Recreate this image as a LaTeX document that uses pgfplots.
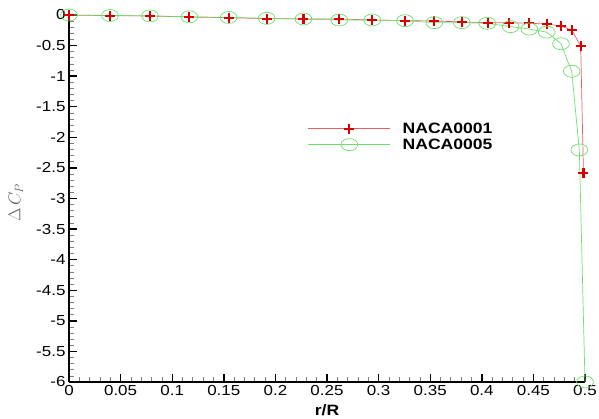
\documentclass[border=0pt]{standalone}
\usepackage{fontspec}
\setmainfont{Liberation Sans}
\usepackage{graphicx}
\usepackage{pgfplots}
\pgfplotsset{compat=1.18}
\definecolor{redline}{RGB}{232,95,95}
\definecolor{redmark}{RGB}{215,0,0}
\definecolor{greenline}{RGB}{110,222,110}
\newcommand{\sx}[1]{\scalebox{1.17}[1]{#1}}
\begin{document}
\begin{tikzpicture}
\begin{axis}[
 scale only axis, width=516pt, height=367pt,
 xmin=0,xmax=0.5,ymin=-6,ymax=0,
 axis x line*=bottom, axis y line*=left,
 axis line style={line width=1.6pt},
 clip=false,
 xtick={0,0.05,0.1,0.15,0.2,0.25,0.3,0.35,0.4,0.45,0.5},
 xticklabels={\sx{0},\sx{0.05},\sx{0.1},\sx{0.15},\sx{0.2},\sx{0.25},\sx{0.3},\sx{0.35},\sx{0.4},\sx{0.45},\sx{0.5}},
 ytick={-6,-5.5,-5,-4.5,-4,-3.5,-3,-2.5,-2,-1.5,-1,-0.5,0},
 yticklabels={\sx{-6},\sx{-5.5},\sx{-5},\sx{-4.5},\sx{-4},\sx{-3.5},\sx{-3},\sx{-2.5},\sx{-2},\sx{-1.5},\sx{-1},\sx{-0.5},\sx{0}},
 minor x tick num=4, minor y tick num=4,
 tick align=inside,
 major tick length=8pt, minor tick length=4.5pt,
 major tick style={line width=1.4pt,black},
 minor tick style={line width=0.7pt,gray},
 ticklabel style={font=\fontsize{14.5}{16}\selectfont},
 /pgf/number format/assume math mode=true,
 xlabel={\sx{\bfseries r/R}},
 xlabel style={at={(axis description cs:0.5,0)},yshift=-28pt,anchor=center,font=\fontsize{15}{17}\selectfont},
 ylabel={$\Delta\,C_P$},
 ylabel style={at={(axis description cs:-0.103,0.488)},anchor=center,text=gray!80!black,font=\fontsize{17}{19}\selectfont},
 legend style={at={(axis description cs:0.457,0.718)},anchor=north west,draw=none,fill=none,font=\bfseries\fontsize{15}{17}\selectfont,row sep=0pt},
 legend cell align=left,
 legend image code/.code={\draw[mark repeat=2,mark phase=2,#1] plot coordinates {(0pt,0pt) (41pt,0pt) (82pt,0pt)}; \path (92pt,0pt);},
]
\coordinate (O) at (rel axis cs:0,0);
\addplot[color=redline, line width=0.7pt, mark=+, mark size=5pt, mark options={redmark, line width=2.2pt}] coordinates {
(0,0) (0.0397,-0.011) (0.0785,-0.016) (0.1166,-0.033) (0.1547,-0.044) (0.1916,-0.060) (0.2272,-0.065) (0.2619,-0.065) (0.2939,-0.082) (0.3256,-0.093) (0.3540,-0.098) (0.3811,-0.114) (0.4057,-0.126) (0.4266,-0.126) (0.4460,-0.136) (0.4629,-0.147) (0.4767,-0.180) (0.4871,-0.245) (0.4958,-0.507) (0.4985,-2.577)
};
\addlegendentry{\sx{NACA0001}}
\addplot[color=greenline, line width=0.7pt, mark=o, mark size=6pt, mark options={greenline, line width=0.7pt, xscale=1.4}] coordinates {
(0,0) (0.0397,-0.008) (0.0785,-0.014) (0.1166,-0.030) (0.1547,-0.040) (0.1916,-0.055) (0.2272,-0.065) (0.2619,-0.082) (0.2939,-0.082) (0.3256,-0.093) (0.3540,-0.125) (0.3806,-0.125) (0.4053,-0.136) (0.4280,-0.19) (0.4460,-0.23) (0.4629,-0.28) (0.4767,-0.47) (0.4871,-0.92) (0.4945,-2.206) (0.5,-6)
};
\addlegendentry{\sx{NACA0005}}
\end{axis}
\pgfresetboundingbox
\path[use as bounding box] (O) ++(-69pt,-37pt) rectangle ++(599pt,419pt);
\end{tikzpicture}
\end{document}
